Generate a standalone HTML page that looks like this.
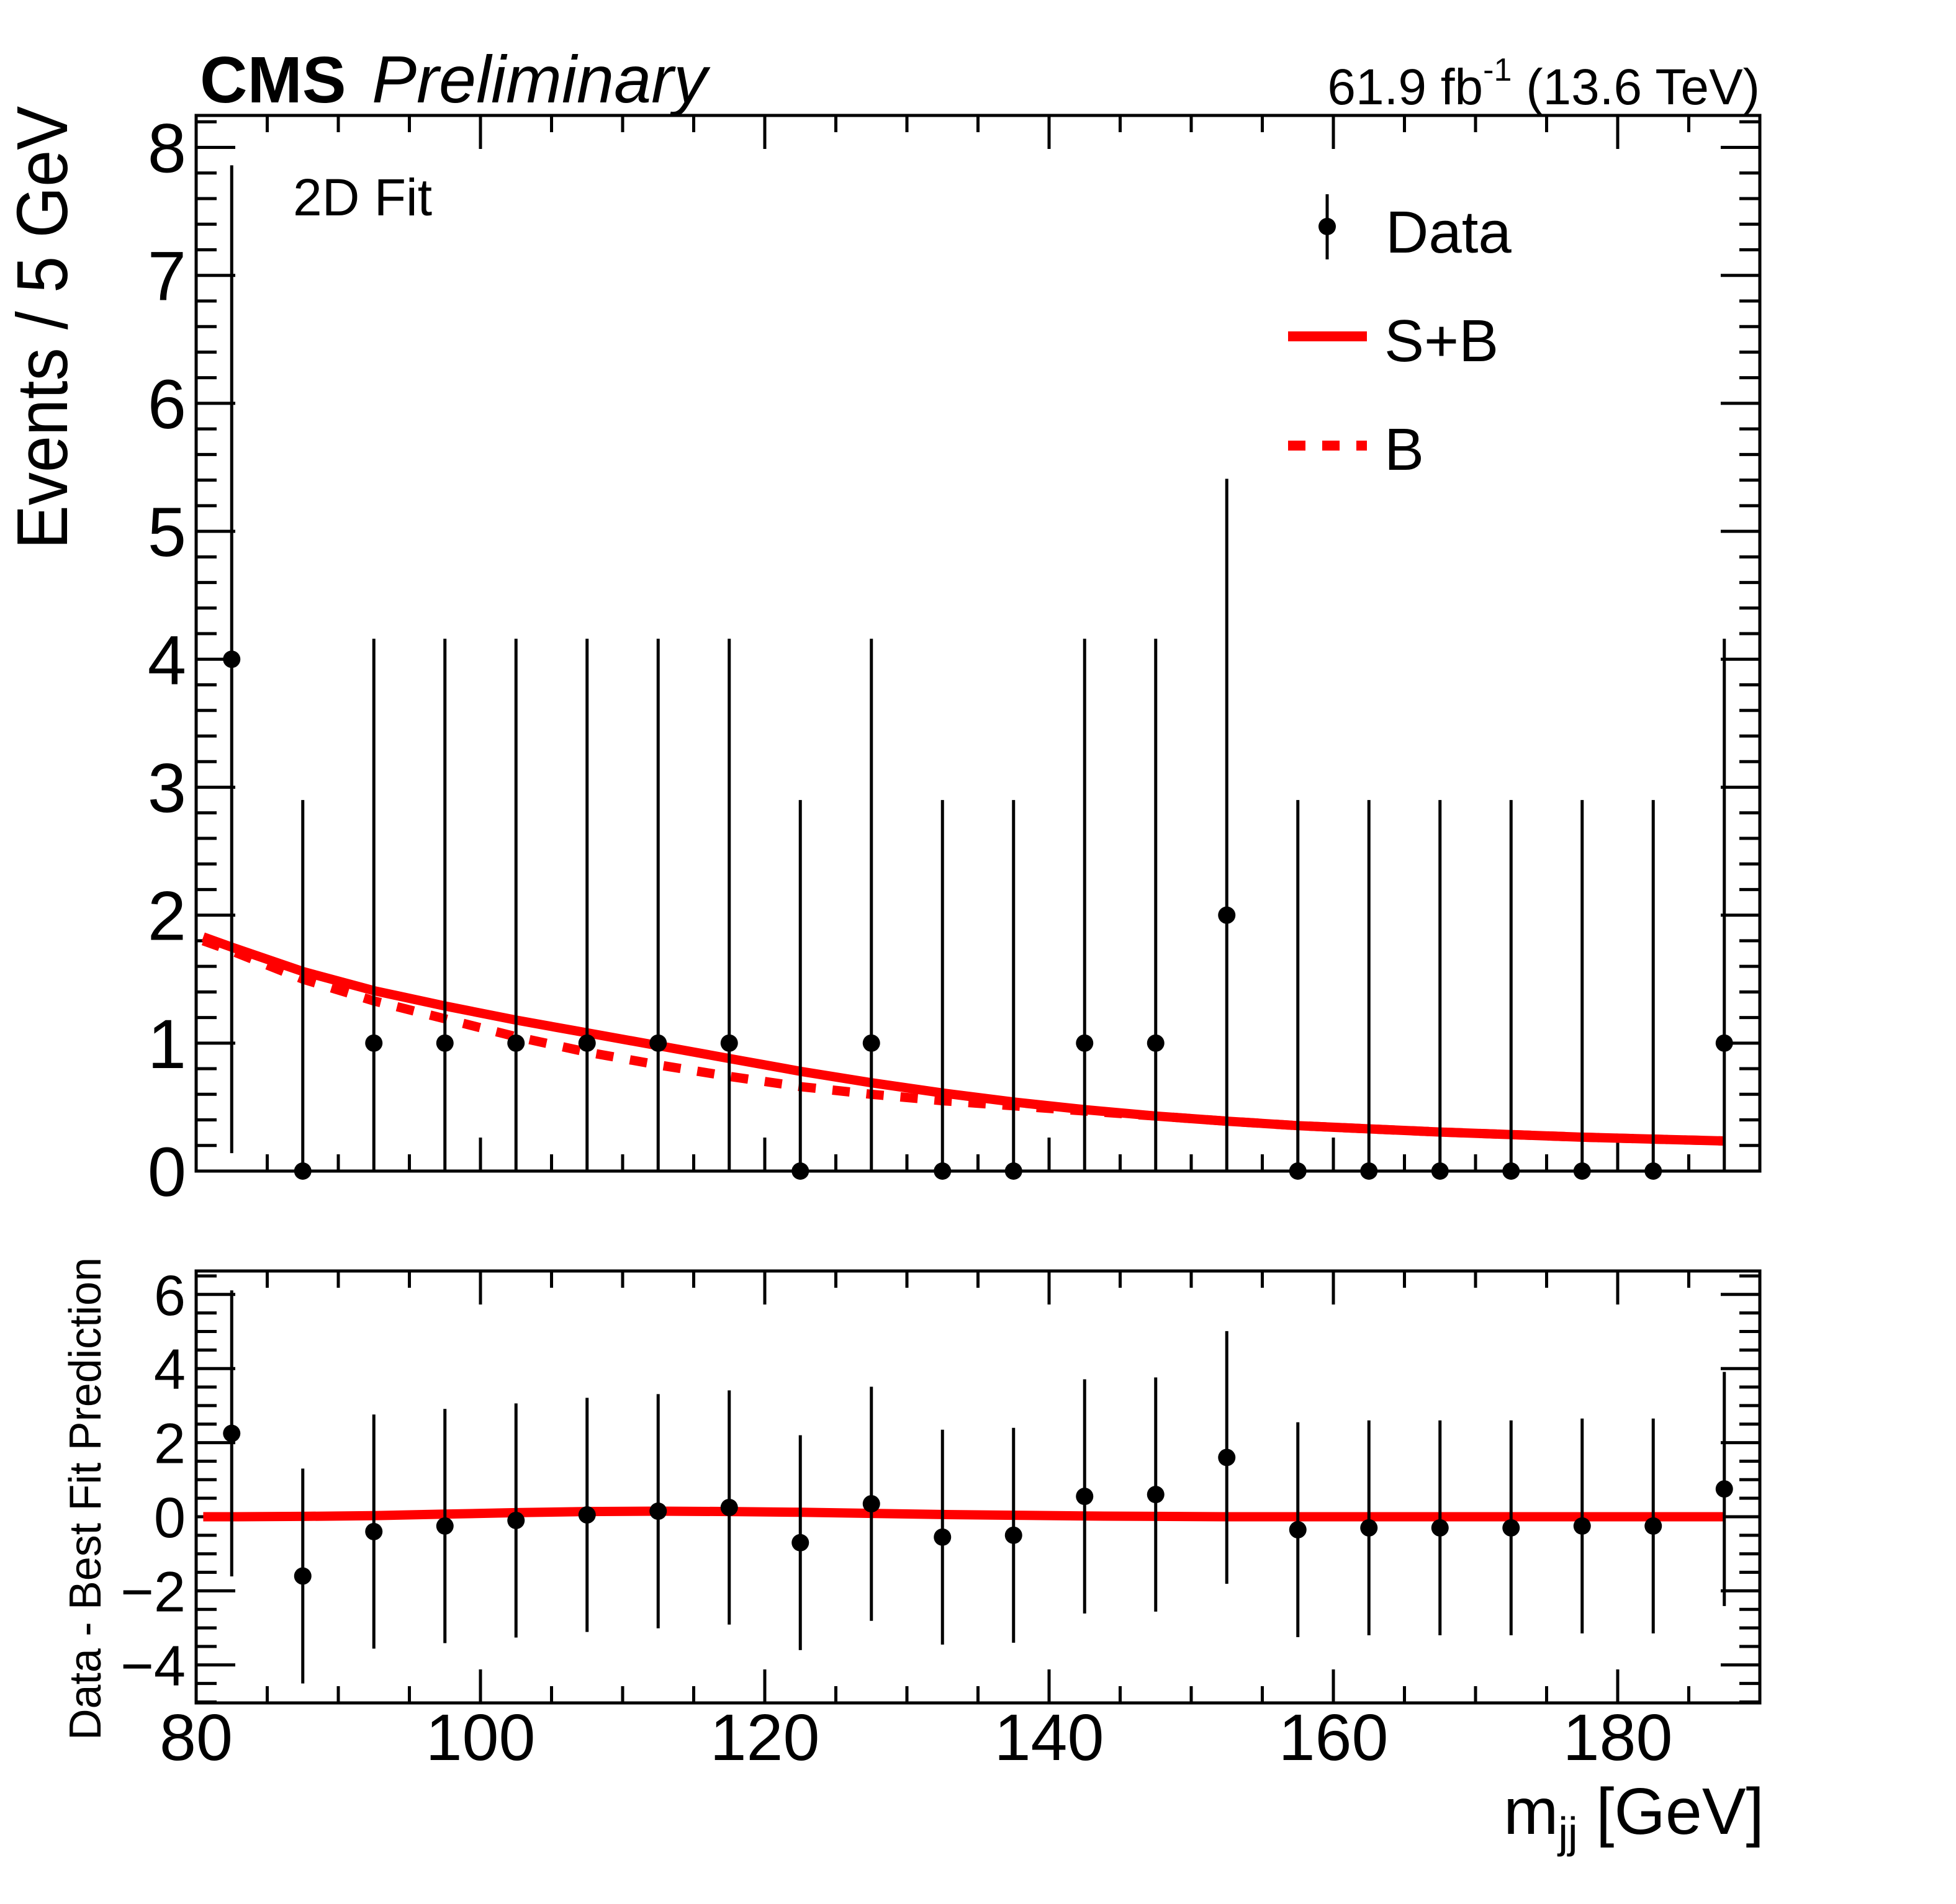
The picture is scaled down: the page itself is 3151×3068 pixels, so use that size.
<!DOCTYPE html>
<html><head><meta charset="utf-8">
<style>
html,body{margin:0;padding:0;background:#fff;}
svg{display:block;font-family:"Liberation Sans",Arial,sans-serif;}
</style></head>
<body>
<svg id="chart" width="3151" height="3068" viewBox="0 0 3151 3068" xmlns="http://www.w3.org/2000/svg">
<rect width="3151" height="3068" fill="#fff"/>
<g id="ticks"></g>
<g id="curves"></g>
<g id="points"></g>
<rect x="316" y="186" width="2519" height="1701" fill="none" stroke="#000" stroke-width="5"/>
<rect x="316" y="2048" width="2519" height="696" fill="none" stroke="#000" stroke-width="5"/>
<text x="322" y="165" font-size="106" font-weight="bold">CMS</text>
<text x="599" y="165" font-size="108" font-style="italic">Preliminary</text>
<text x="2835" y="168" font-size="82" text-anchor="end">61.9 fb<tspan font-size="52" dy="-38">-1</tspan><tspan dy="38"> (13.6 TeV)</tspan></text>
<text x="472" y="347" font-size="84">2D Fit</text>
<text transform="translate(108,885) rotate(-90)" font-size="116" textLength="714" lengthAdjust="spacingAndGlyphs">Events / 5 GeV</text>
<text transform="translate(162,2804) rotate(-90)" font-size="72" textLength="778" lengthAdjust="spacingAndGlyphs">Data - Best Fit Prediction</text>
<text x="2842" y="2955" font-size="106" text-anchor="end">m<tspan font-size="70" dy="22">jj</tspan><tspan dy="-22"> [GeV]</tspan></text>
<g>
  <line x1="2138" y1="313" x2="2138" y2="418" stroke="#000" stroke-width="5"/>
  <circle cx="2138" cy="365" r="14"/>
  <text x="2232" y="407" font-size="96">Data</text>
  <line x1="2075" y1="542" x2="2202" y2="542" stroke="#f00" stroke-width="16"/>
  <text x="2230" y="582" font-size="96">S+B</text>
  <line x1="2075" y1="718" x2="2202" y2="718" stroke="#f00" stroke-width="16" stroke-dasharray="28,27"/>
  <text x="2230" y="757" font-size="96">B</text>
</g>
</svg>
<script>
const binCenters=[82.5,87.5,92.5,97.5,102.5,107.5,112.5,117.5,122.5,127.5,132.5,137.5,142.5,147.5,152.5,157.5,162.5,167.5,172.5,177.5,182.5,187.5];
const counts=[4,0,1,1,1,1,1,1,0,1,0,0,1,1,2,0,0,0,0,0,0,1];
const errHigh=[3.86,2.9,3.16,3.16,3.16,3.16,3.16,3.16,2.9,3.16,2.9,2.9,3.16,3.16,3.41,2.9,2.9,2.9,2.9,2.9,2.9,3.16];
const residuals=[2.25,-1.6,-0.4,-0.25,-0.1,0.05,0.15,0.25,-0.7,0.35,-0.55,-0.5,0.55,0.6,1.6,-0.35,-0.3,-0.3,-0.3,-0.25,-0.25,0.75];
const curveX=[80.5,82.5,87.5,92.5,97.5,102.5,107.5,112.5,117.5,122.5,127.5,132.5,137.5,142.5,147.5,152.5,157.5,162.5,167.5,172.5,177.5,182.5,187.5];
const sbValues=[1.83,1.75,1.56,1.41,1.29,1.18,1.08,0.98,0.88,0.78,0.69,0.61,0.54,0.48,0.43,0.39,0.355,0.33,0.305,0.285,0.265,0.25,0.235];
const bValues=[1.8,1.72,1.5,1.33,1.19,1.05,0.93,0.83,0.74,0.66,0.6,0.55,0.51,0.47,0.43,0.39,0.355,0.33,0.305,0.285,0.265,0.25,0.235];
const ratioCurve=[0,0,0.01,0.03,0.07,0.11,0.14,0.15,0.14,0.12,0.09,0.06,0.04,0.02,0.01,0,0,0,0,0,0,0,0];
const upperTickLabels=["0","1","2","3","4","5","6","7","8"];
const lowerTickValues=[-4,-2,0,2,4,6];
const xTickValues=[80,100,120,140,160,180];

const NS="http://www.w3.org/2000/svg";
const X0=316,X1=2835;
const xs=v=>X0+(v-80)*(X1-X0)/110;
const yU=v=>1887-v*(1887-186)/8.25;
const yL=v=>2444-v*59.7;
function mk(tag,attrs,parent){const e=document.createElementNS(NS,tag);for(const k in attrs)e.setAttribute(k,attrs[k]);parent.appendChild(e);return e;}
const gT=document.getElementById('ticks'),gC=document.getElementById('curves'),gP=document.getElementById('points');

for(let v=80;v<=190;v+=5){
  const major=(v%20===0);const L=major?54:27;const x=xs(v);
  for(const [yb,yt] of [[1887,186],[2744,2048]]){
    let t=mk('line',{x1:x,y1:yb,x2:x,y2:yb-L,stroke:'#000','stroke-width':5},gT);
    
    
    t=mk('line',{x1:x,y1:yt,x2:x,y2:yt+L,stroke:'#000','stroke-width':5},gT);
    
    
  }
}
xTickValues.forEach(v=>{
  const t=mk('text',{x:xs(v),y:2836,'font-size':106,'text-anchor':'middle'},gT);t.textContent=String(v);
  
  
});
for(let i=0;i<=41;i++){
  const v=i*0.2;if(v>8.25)break;const major=(i%5===0);const L=major?63:33;const y=yU(v);
  let t=mk('line',{x1:X0,y1:y,x2:X0+L,y2:y,stroke:'#000','stroke-width':5},gT);
  
  
  t=mk('line',{x1:X1,y1:y,x2:X1-L,y2:y,stroke:'#000','stroke-width':5},gT);
  
  
}
upperTickLabels.forEach((s,i)=>{
  const t=mk('text',{x:300,y:yU(i)+40,'font-size':112,'text-anchor':'end'},gT);t.textContent=s;
  
  
});
for(let v=-5;v<=6.5;v+=0.5){
  const major=(Math.abs(v%2)<1e-9);const L=major?63:33;const y=yL(v);
  let t=mk('line',{x1:X0,y1:y,x2:X0+L,y2:y,stroke:'#000','stroke-width':5},gT);
  
  
  t=mk('line',{x1:X1,y1:y,x2:X1-L,y2:y,stroke:'#000','stroke-width':5},gT);
  
  
}
lowerTickValues.forEach(v=>{
  const t=mk('text',{x:299,y:yL(v)+33,'font-size':92,'text-anchor':'end'},gT);t.textContent=(v<0?'\u2212':'')+Math.abs(v);
  
  
});
const path=(vals,fy)=>curveX.map((x,i)=>(i?'L':'M')+xs(x).toFixed(1)+','+fy(vals[i]).toFixed(1)).join(' ');
let c=mk('path',{d:path(bValues,yU),fill:'none',stroke:'#f00','stroke-width':15,'stroke-dasharray':'28,27','stroke-linejoin':'round'},gC);


c=mk('path',{d:path(sbValues,yU),fill:'none',stroke:'#f00','stroke-width':15,'stroke-linejoin':'round'},gC);


c=mk('path',{d:path(ratioCurve,yL),fill:'none',stroke:'#f00','stroke-width':15,'stroke-linejoin':'round'},gC);


binCenters.forEach((b,i)=>{
  const x=xs(b);const n=counts[i];const lo=Math.max(0,n-errHigh[i]);const hi=n+errHigh[i];
  let e=mk('line',{x1:x,y1:yU(lo),x2:x,y2:yU(hi),stroke:'#000','stroke-width':5},gP);
  
  
  e=mk('circle',{cx:x,cy:yU(n),r:14},gP);
  
  
  const r=residuals[i];
  e=mk('line',{x1:x,y1:yL(r-errHigh[i]),x2:x,y2:yL(r+errHigh[i]),stroke:'#000','stroke-width':5},gP);
  
  
  e=mk('circle',{cx:x,cy:yL(r),r:14},gP);
  
  
});
</script>
</body></html>
